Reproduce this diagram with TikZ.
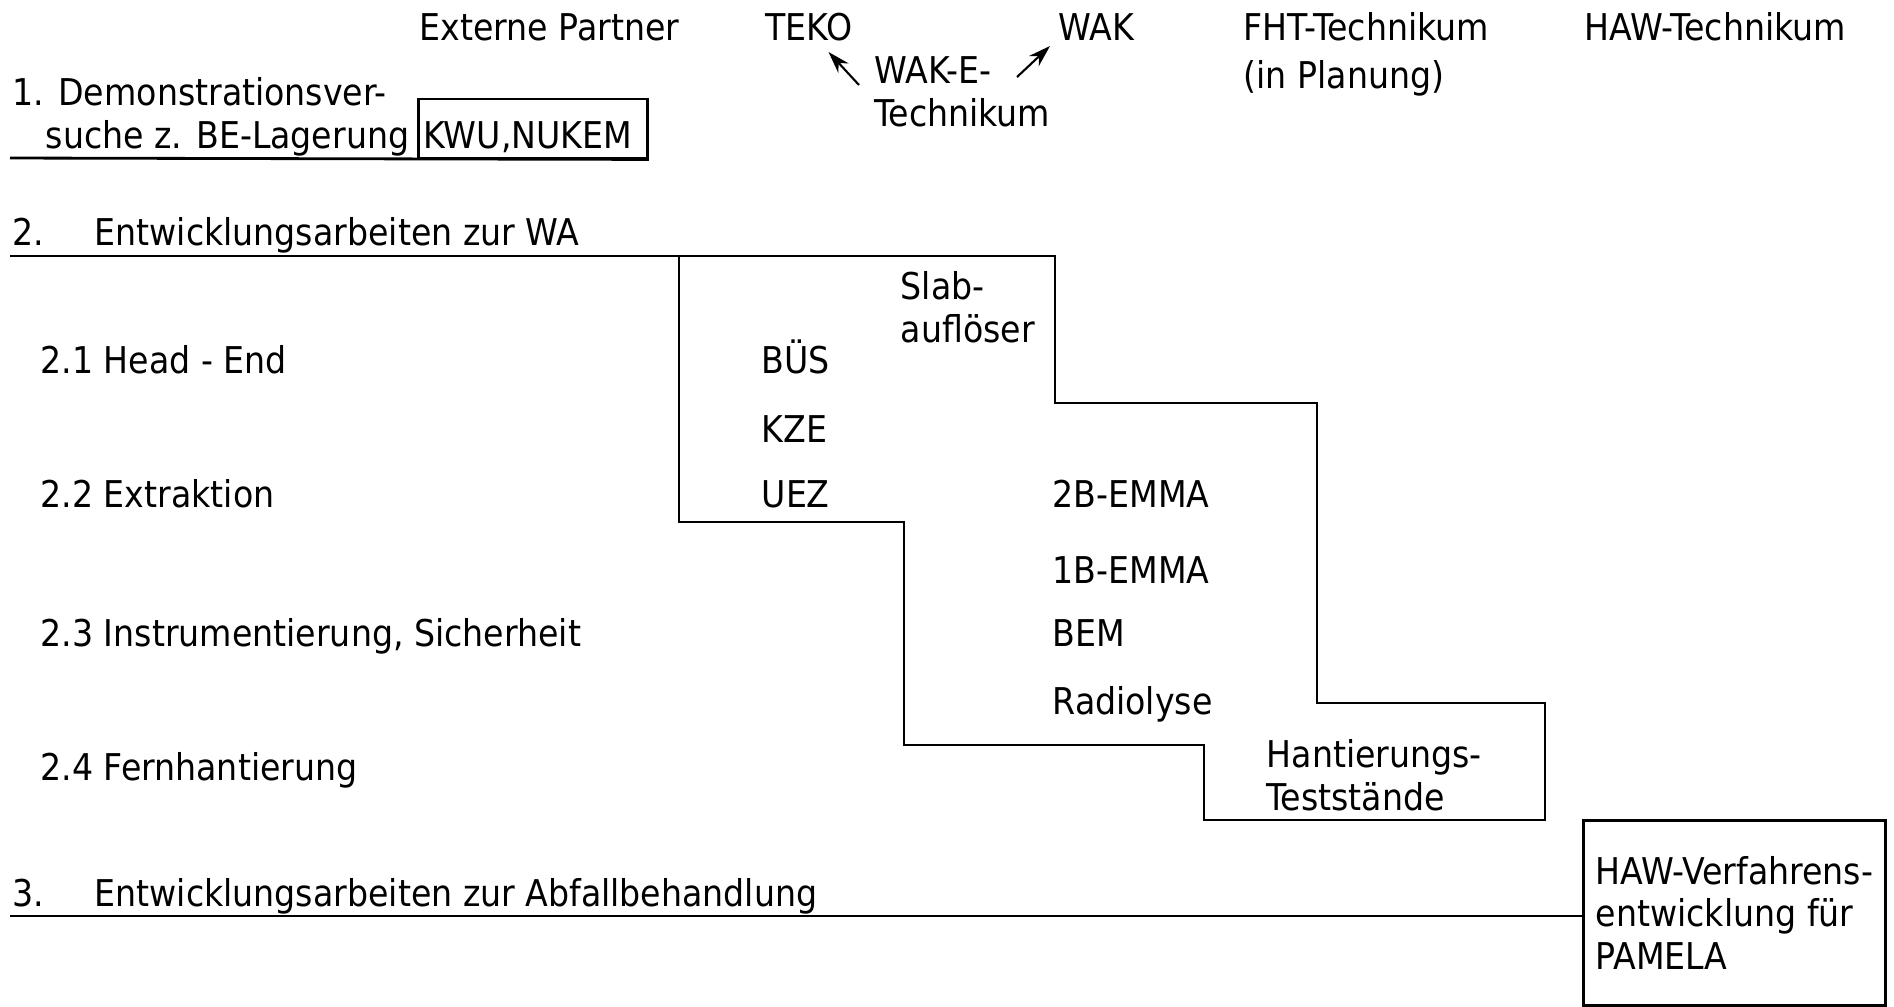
\documentclass[tikz,border=0pt]{standalone}
\usepackage{fontspec}
\setmainfont{DejaVu Sans Condensed}
\usetikzlibrary{arrows.meta}

\begin{document}
\begin{tikzpicture}[every node/.style={inner sep=0pt, anchor=base west, align=left, font=\fontsize{10.5}{12}\selectfont},
  linie/.style={line width=0.8pt},
  pfeil/.style={line width=0.6pt, -{Stealth[length=2.2mm, width=1.4mm]}}]
  \useasboundingbox (0,0) rectangle (18.94,-10.06);

  % Spaltenkoepfe
  \node (externe) at (4.19,-0.40) {Externe Partner};
  \node (teko) at (7.65,-0.40) {TEKO};
  \node (wak) at (10.58,-0.40) {WAK};
  \node (fht) at (12.43,-0.88) {FHT-Technikum\\[1.5pt](in Planung)};
  \node (hawtech) at (15.84,-0.40) {HAW-Technikum};
  \node (wake) at (8.74,-1.26) {WAK-E-\\Technikum};
  \draw[pfeil] ([shift={(-0.15,0.41)}]wake.base west) -- ([shift={(-0.25,-0.12)}]teko.base east);
  \draw[pfeil] ([shift={(1.43,0.49)}]wake.base west) -- ([shift={(-0.08,-0.06)}]wak.base west);

  % 1.
  \node (demo) at (0.12,-1.48) {1. Demonstrationsver-\\\hspace*{0.33cm}suche z. BE-Lagerung};
  \node (kwu) [draw, linie, inner xsep=0.05cm, text height=0.49cm, text depth=0.1cm, text width=2.19cm] at (4.17,-1.48) {KWU,NUKEM};
  \coordinate (l1) at (0.10,-1.58);
  \draw[linie] (l1) -- (kwu.south east);

  % 2.
  \node (wa) at (0.12,-2.45) {\makebox[0.82cm][l]{2.}Entwicklungsarbeiten zur WA};
  \coordinate (l2) at (0.10,-2.56);
  \draw[linie] (l2) -- (10.55,-2.56) -- (10.55,-4.03) -- (13.17,-4.03) -- (13.17,-7.03)
    -- (15.45,-7.03) -- (15.45,-8.20) -- (12.04,-8.20) -- (12.04,-7.45) -- (9.04,-7.45)
    -- (9.04,-5.22) -- (6.79,-5.22) -- (6.79,-2.56);

  \node (headend) at (0.40,-3.73) {2.1 Head - End};
  \node (extraktion) at (0.40,-5.07) {2.2 Extraktion};
  \node (instr) at (0.40,-6.46) {2.3 Instrumentierung, Sicherheit};
  \node (fernh) at (0.40,-7.80) {2.4 Fernhantierung};

  \node (slab) at (9.00,-3.42) {Slab-\\auflöser};
  \node (bues) at (7.61,-3.73) {BÜS};
  \node (kze) at (7.61,-4.42) {KZE};
  \node (uez) at (7.61,-5.07) {UEZ};
  \node (emmaz) at (10.52,-5.07) {2B-EMMA};
  \node (emmae) at (10.52,-5.83) {1B-EMMA};
  \node (bem) at (10.52,-6.46) {BEM};
  \node (radiolyse) at (10.52,-7.14) {Radiolyse};
  \node (hant) at (12.66,-8.10) {Hantierungs-\\Teststände};

  % 3.
  \node (abfall) at (0.12,-9.06) {\makebox[0.82cm][l]{3.}Entwicklungsarbeiten zur Abfallbehandlung};
  \node (hawbox) [draw, linie, anchor=north west, minimum width=3.02cm, minimum height=1.85cm] at (15.82,-8.19) {HAW-Verfahrens-\\entwicklung für\\PAMELA};
  \coordinate (l3) at (0.10,-9.16);
  \draw[linie] (l3) -- (l3 -| hawbox.west);
\end{tikzpicture}
\end{document}
